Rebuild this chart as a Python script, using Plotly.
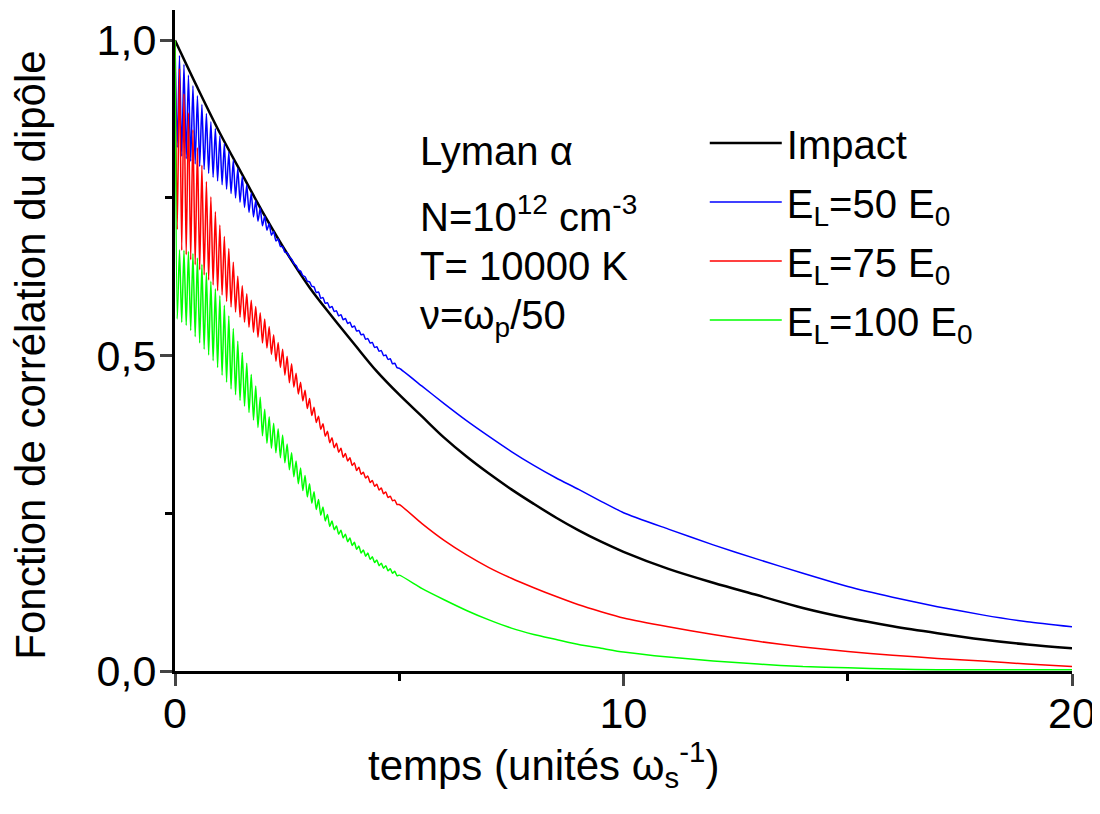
import plotly.graph_objects as go

# temps (unités 1/omega_s)
t_early = [round(0.05 * i, 2) for i in range(100)]  # 0 .. 4.95, pics / creux alternés
t_late = [5.0, 5.5, 6.0, 6.5, 7.0, 7.5, 8.0, 8.5, 9.0, 9.5,
          10, 11, 12, 13, 14, 15, 16, 17, 18, 19, 20]
t_impact = [0, 0.5, 1.0, 1.5, 2.0, 2.5, 3.0, 3.5, 4.0, 4.5, 5.0, 5.5, 6.0, 6.5, 7.0, 7.5, 8.0,
            8.5, 9.0, 9.5, 10, 11, 12, 13, 14, 15, 16, 17, 18, 19, 20]

impact = [1.0, 0.925, 0.853, 0.787, 0.722, 0.662, 0.608, 0.562, 0.518, 0.475, 0.438, 0.404,
          0.37, 0.34, 0.313, 0.288, 0.265, 0.243, 0.223, 0.205,
          0.189, 0.162, 0.14, 0.12, 0.1, 0.084, 0.071, 0.06, 0.05, 0.042, 0.036]

# E_L = 50 E0
el50_early = [1.0, 0.83, 0.976, 0.816, 0.962, 0.812, 0.945, 0.808, 0.928, 0.804,
              0.912, 0.80, 0.898, 0.795, 0.884, 0.789, 0.871, 0.783, 0.860, 0.777,
              0.848, 0.771, 0.836, 0.764, 0.823, 0.757, 0.810, 0.750, 0.797, 0.743,
              0.784, 0.735, 0.771, 0.727, 0.758, 0.720, 0.746, 0.713, 0.734, 0.706,
              0.721, 0.699, 0.709, 0.691, 0.697, 0.682, 0.685, 0.673, 0.673, 0.664,
              0.663, 0.656, 0.653, 0.646, 0.643, 0.636, 0.634, 0.627, 0.625, 0.618,
              0.617, 0.610, 0.609, 0.600, 0.601, 0.591, 0.592, 0.583, 0.584, 0.576,
              0.578, 0.570, 0.571, 0.563, 0.565, 0.557, 0.559, 0.551, 0.553, 0.545,
              0.547, 0.539, 0.540, 0.533, 0.534, 0.526, 0.527, 0.520, 0.521, 0.513,
              0.514, 0.507, 0.508, 0.500, 0.501, 0.494, 0.495, 0.487, 0.488, 0.481]
el50_late = [0.480, 0.452, 0.424, 0.397, 0.372, 0.348, 0.326, 0.306, 0.288, 0.269,
             0.251, 0.225, 0.200, 0.177, 0.155, 0.134, 0.117, 0.102, 0.089, 0.078, 0.070]

# E_L = 75 E0
el75_early = [1.0, 0.70, 0.955, 0.667, 0.915, 0.66, 0.885, 0.652, 0.858, 0.644,
              0.83, 0.636, 0.802, 0.628, 0.776, 0.62, 0.752, 0.612, 0.728, 0.603,
              0.707, 0.596, 0.689, 0.586, 0.67, 0.577, 0.648, 0.569, 0.626, 0.561,
              0.611, 0.553, 0.598, 0.545, 0.588, 0.537, 0.578, 0.529, 0.568, 0.52,
              0.558, 0.512, 0.546, 0.502, 0.533, 0.491, 0.521, 0.481, 0.51, 0.469,
              0.499, 0.457, 0.487, 0.450, 0.472, 0.439, 0.458, 0.428, 0.445, 0.416,
              0.432, 0.405, 0.418, 0.394, 0.404, 0.383, 0.392, 0.372, 0.380, 0.362,
              0.370, 0.354, 0.361, 0.347, 0.353, 0.339, 0.345, 0.333, 0.338, 0.326,
              0.330, 0.318, 0.323, 0.312, 0.315, 0.306, 0.309, 0.299, 0.302, 0.293,
              0.296, 0.287, 0.290, 0.281, 0.284, 0.275, 0.277, 0.270, 0.271, 0.264]
el75_late = [0.264, 0.234, 0.207, 0.184, 0.164, 0.147, 0.132, 0.118, 0.105, 0.094,
             0.084, 0.07, 0.058, 0.047, 0.038, 0.031, 0.025, 0.02, 0.016, 0.011, 0.007]

# E_L = 100 E0
el100_early = [1.0, 0.558, 0.668, 0.553, 0.667, 0.548, 0.665, 0.54, 0.662, 0.53,
               0.655, 0.52, 0.645, 0.51, 0.632, 0.501, 0.618, 0.492, 0.606, 0.481,
               0.595, 0.469, 0.58, 0.458, 0.563, 0.447, 0.543, 0.438, 0.523, 0.429,
               0.505, 0.42, 0.488, 0.41, 0.47, 0.398, 0.452, 0.386, 0.434, 0.373,
               0.415, 0.361, 0.403, 0.353, 0.393, 0.346, 0.384, 0.338, 0.374, 0.33,
               0.36, 0.319, 0.346, 0.308, 0.333, 0.297, 0.322, 0.286, 0.31, 0.276,
               0.297, 0.266, 0.284, 0.256, 0.272, 0.247, 0.26, 0.238, 0.248, 0.229,
               0.238, 0.224, 0.230, 0.217, 0.223, 0.211, 0.217, 0.205, 0.211, 0.199,
               0.204, 0.193, 0.198, 0.187, 0.192, 0.182, 0.187, 0.177, 0.181, 0.172,
               0.176, 0.167, 0.171, 0.163, 0.167, 0.159, 0.162, 0.155, 0.158, 0.151]
el100_late = [0.152, 0.131, 0.113, 0.096, 0.081, 0.068, 0.058, 0.05, 0.042, 0.036,
              0.03, 0.022, 0.016, 0.011, 0.007, 0.005, 0.003, 0.002, 0.002, 0.002, 0.002]

FONT = "Arial, Liberation Sans, sans-serif"

fig = go.Figure()
fig.add_trace(go.Scatter(x=t_impact, y=impact, mode='lines', name='Impact',
                         legendgroup='a', line=dict(color='black', width=2.5, shape='spline')))
fig.add_trace(go.Scatter(x=t_early + t_late, y=el50_early + el50_late, mode='lines',
                         name='E<sub>L</sub>=50 E<sub>0</sub>', legendgroup='b',
                         line=dict(color='#0000ff', width=1.5, shape='spline', smoothing=0.6)))
fig.add_trace(go.Scatter(x=t_early + t_late, y=el75_early + el75_late, mode='lines',
                         name='E<sub>L</sub>=75 E<sub>0</sub>', legendgroup='c',
                         line=dict(color='#ff0000', width=1.5, shape='spline', smoothing=0.6)))
fig.add_trace(go.Scatter(x=t_early + t_late, y=el100_early + el100_late, mode='lines',
                         name='E<sub>L</sub>=100 E<sub>0</sub>', legendgroup='d',
                         line=dict(color='#00ff00', width=1.5, shape='spline', smoothing=0.6)))

# bloc de texte (conditions)
infos = ['Lyman α', 'N=10<sup>12</sup> cm<sup>-3</sup>', 'T= 10000 K', 'ν=ω<sub>p</sub>/50']
info_y = [0.825, 0.724, 0.642, 0.559]
for txt, yy in zip(infos, info_y):
    fig.add_annotation(text=txt, xref='paper', yref='y', x=0.271, y=yy,
                       xanchor='left', yanchor='middle', showarrow=False,
                       font=dict(family=FONT, size=40, color='black'))

# titres des axes
fig.add_annotation(text='temps (unités ω<sub>s</sub><sup>-1</sup>)', xref='paper', yref='paper',
                   x=0.411, y=-0.142, xanchor='center', yanchor='middle', showarrow=False,
                   font=dict(family=FONT, size=42, color='black'))
fig.add_annotation(text='Fonction de corrélation du dipôle', xref='paper', yref='paper',
                   x=-0.162, y=0.478, xanchor='center', yanchor='middle', textangle=-90,
                   showarrow=False, font=dict(family=FONT, size=42, color='black'))

fig.update_xaxes(range=[0, 20], tick0=0, dtick=10, ticks='outside', ticklen=12, tickwidth=2.5,
                 showline=True, linewidth=3, linecolor='black', showgrid=False, zeroline=False,
                 ticklabelstandoff=-10, ticklabeloverflow='allow',
                 tickfont=dict(family=FONT, size=43, color='black'),
                 minor=dict(dtick=5, ticks='outside', ticklen=7, tickwidth=2.5, tickcolor='black'))
fig.update_yaxes(range=[0, 1.048], tick0=0, dtick=0.5, tickformat='.1f', ticks='outside',
                 ticklen=12, tickwidth=2.5, showline=True, linewidth=3, linecolor='black',
                 showgrid=False, zeroline=False, ticklabelstandoff=-5,
                 tickfont=dict(family=FONT, size=43, color='black'),
                 minor=dict(dtick=0.25, ticks='outside', ticklen=7, tickwidth=2.5, tickcolor='black'))

# la page ajoute 8 px de marge au corps : figure 1092x798 pour tenir sans barre de défilement
fig.update_layout(
    width=1092, height=798,
    margin=dict(l=167, r=28, t=2, b=135),
    paper_bgcolor='white', plot_bgcolor='white',
    separators=',.',
    font=dict(family=FONT, color='black'),
    legend=dict(x=0.5906, y=0.848, xanchor='left', yanchor='top', bgcolor='rgba(0,0,0,0)',
                font=dict(family=FONT, size=40, color='black'), itemwidth=72,
                tracegroupgap=4),
    showlegend=True,
)

fig.write_html("out.html", config={'displayModeBar': False})
